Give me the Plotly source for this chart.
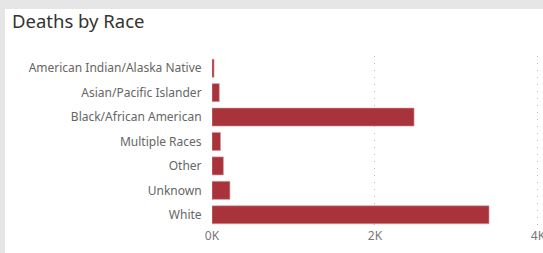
import plotly.graph_objects as go

categories = ["American Indian/Alaska Native", "Asian/Pacific Islander", "Black/African American",
              "Multiple Races", "Other", "Unknown", "White"]
deaths = [25, 90, 2480, 105, 140, 220, 3400]
tick_values = [0, 2000, 4000]
tick_labels = ["0K", "2K", "4K"]

W, H = 543, 253
L, R, T, B = 212, 1, 56, 26
pw, ph = W - L - R, H - T - B

fig = go.Figure(go.Bar(
    x=deaths, y=categories, orientation="h",
    marker=dict(color="#A8333A", line=dict(color="#D9A0A3", width=0.6)),
    hoverinfo="x+y",
))

fig.update_layout(
    width=W, height=H,
    margin=dict(l=L, r=R, t=T, b=B, pad=0, autoexpand=False),
    paper_bgcolor="#E6E6E6",
    plot_bgcolor="white",
    bargap=0.26,
    showlegend=False,
    font=dict(family="Noto Sans, Open Sans, sans-serif", color="#666666", size=12),
    title=dict(text="Deaths by Race", x=12 / W, xanchor="left", y=1 - 22 / H, yanchor="middle",
               font=dict(family="Noto Sans, Open Sans, sans-serif", size=18.5, color="#333333")),
    xaxis=dict(range=[0, 4050], tickvals=tick_values, ticktext=tick_labels, automargin=False,
               showgrid=True, gridcolor="#BBBBBB", griddash="1px,6px", gridwidth=1,
               zeroline=False, showline=False, ticks="", fixedrange=True,
               ticklabeloverflow="allow",
               tickfont=dict(size=12, color="#777777")),
    yaxis=dict(autorange="reversed", showgrid=False, zeroline=False, showline=False, automargin=False,
               ticks="outside", ticklen=7, tickcolor="rgba(0,0,0,0)", fixedrange=True,
               tickfont=dict(size=12, color="#666666")),
    shapes=[dict(type="rect", xref="paper", yref="paper",
                 x0=(5 - L) / pw, x1=(W - L + 5) / pw,
                 y0=-(B + 5) / ph, y1=(H - B - 9) / ph,
                 fillcolor="white", line=dict(width=0), layer="below")],
)

fig.write_html("out.html", config={"displayModeBar": False},
               post_script="document.body.style.margin='0';")
